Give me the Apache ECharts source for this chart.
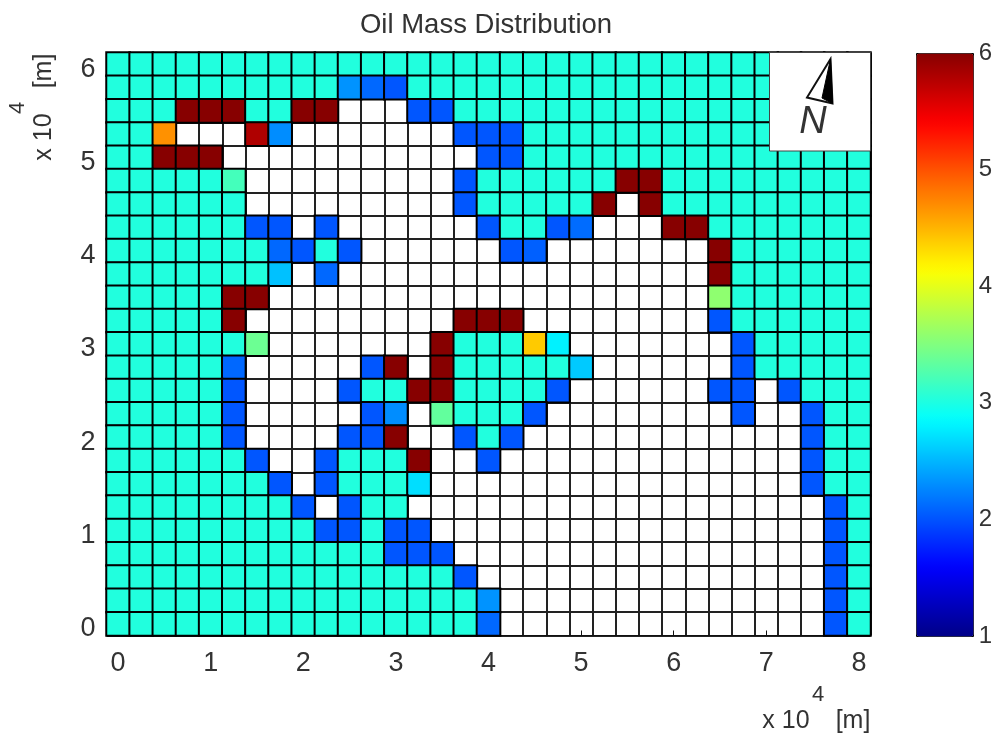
<!DOCTYPE html>
<html>
<head>
<meta charset="utf-8">
<style>html,body{margin:0;padding:0;background:#fff}#c{width:995px;height:734px}</style>
<script src="https://cdn.jsdelivr.net/npm/echarts@6/dist/echarts.min.js"></script>
</head>
<body>
<div id="c"></div>
<script>
var T = 3.03, B = 2.02, D = 6, _ = null;
var title = 'Oil Mass Distribution';
var xCategories = ['0','0.25','0.5','0.75','1','1.25','1.5','1.75','2','2.25','2.5','2.75','3','3.25','3.5','3.75','4','4.25','4.5','4.75','5','5.25','5.5','5.75','6','6.25','6.5','6.75','7','7.25','7.5','7.75','8'];
var yCategories = ['0','0.25','0.5','0.75','1','1.25','1.5','1.75','2','2.25','2.5','2.75','3','3.25','3.5','3.75','4','4.25','4.5','4.75','5','5.25','5.5','5.75','6'];
var colorbarTicks = [1, 6, 1];
// rows listed from the top of the picture to the bottom
var row00 = [T,T,T,T,T,T,T,T,T,T,T,T,T,T,T,T,T,T,T,T,T,T,T,T,T,T,T,T,T,T,T,T,T];
var row01 = [T,T,T,T,T,T,T,T,T,T,2.33,2.11,B,T,T,T,T,T,T,T,T,T,T,T,T,T,T,T,T,T,T,T,T];
var row02 = [T,T,T,D,D,D,T,T,D,D,_,_,_,B,B,T,T,T,T,T,T,T,T,T,T,T,T,T,T,T,T,T,T];
var row03 = [T,T,4.68,_,_,_,5.8,2.3,_,_,_,_,_,_,_,B,B,B,T,T,T,T,T,T,T,T,T,T,T,T,T,T,T];
var row04 = [T,T,D,D,D,_,_,_,_,_,_,_,_,_,_,_,B,B,T,T,T,T,T,T,T,T,T,T,T,T,T,T,T];
var row05 = [T,T,T,T,T,3.2,_,_,_,_,_,_,_,_,_,B,T,T,T,T,T,T,D,D,T,T,T,T,T,T,T,T,T];
var row06 = [T,T,T,T,T,T,_,_,_,_,_,_,_,_,_,B,T,T,T,T,T,D,_,D,T,T,T,T,T,T,T,T,T];
var row07 = [T,T,T,T,T,T,B,B,_,B,_,_,_,_,_,_,B,T,T,B,2.13,_,_,_,D,D,T,T,T,T,T,T,T];
var row08 = [T,T,T,T,T,T,T,2.11,B,T,B,_,_,_,_,_,_,B,2.07,_,_,_,_,_,_,_,D,T,T,T,T,T,T];
var row09 = [T,T,T,T,T,T,T,2.56,_,2.11,_,_,_,_,_,_,_,_,_,_,_,_,_,_,_,_,D,T,T,T,T,T,T];
var row10 = [T,T,T,T,T,D,D,_,_,_,_,_,_,_,_,_,_,_,_,_,_,_,_,_,_,_,3.58,T,T,T,T,T,T];
var row11 = [T,T,T,T,T,D,_,_,_,_,_,_,_,_,_,D,D,D,_,_,_,_,_,_,_,_,B,T,T,T,T,T,T];
var row12 = [T,T,T,T,T,T,3.4,_,_,_,_,_,_,_,D,T,T,T,4.4,2.8,_,_,_,_,_,_,_,B,T,T,T,T,T];
var row13 = [T,T,T,T,T,2.11,_,_,_,_,_,B,D,_,D,T,T,T,T,T,2.6,_,_,_,_,_,_,B,T,T,T,T,T];
var row14 = [T,T,T,T,T,B,_,_,_,_,B,T,T,D,D,T,T,T,T,B,_,_,_,_,_,_,B,B,_,B,T,T,T];
var row15 = [T,T,T,T,T,B,_,_,_,_,_,B,2.3,_,3.35,T,T,T,B,_,_,_,_,_,_,_,_,B,_,_,B,T,T];
var row16 = [T,T,T,T,T,B,_,_,_,_,B,B,D,_,_,B,T,B,_,_,_,_,_,_,_,_,_,_,_,_,B,T,T];
var row17 = [T,T,T,T,T,T,B,_,_,B,T,T,T,D,_,_,B,_,_,_,_,_,_,_,_,_,_,_,_,_,B,T,T];
var row18 = [T,T,T,T,T,T,T,B,_,B,T,T,T,2.7,_,_,_,_,_,_,_,_,_,_,_,_,_,_,_,_,B,T,T];
var row19 = [T,T,T,T,T,T,T,T,B,_,B,T,T,_,_,_,_,_,_,_,_,_,_,_,_,_,_,_,_,_,_,B,T];
var row20 = [T,T,T,T,T,T,T,T,T,B,B,T,B,B,_,_,_,_,_,_,_,_,_,_,_,_,_,_,_,_,_,B,T];
var row21 = [T,T,T,T,T,T,T,T,T,T,T,T,B,B,B,_,_,_,_,_,_,_,_,_,_,_,_,_,_,_,_,B,T];
var row22 = [T,T,T,T,T,T,T,T,T,T,T,T,T,T,T,B,_,_,_,_,_,_,_,_,_,_,_,_,_,_,_,B,T];
var row23 = [T,T,T,T,T,T,T,T,T,T,T,T,T,T,T,T,2.33,_,_,_,_,_,_,_,_,_,_,_,_,_,_,B,T];
var row24 = [T,T,T,T,T,T,T,T,T,T,T,T,T,T,T,T,2.11,_,_,_,_,_,_,_,_,_,_,_,_,_,_,B,T];
var rows = [row00,row01,row02,row03,row04,row05,row06,row07,row08,row09,row10,row11,row12,row13,row14,row15,row16,row17,row18,row19,row20,row21,row22,row23,row24];

var cells = [];
rows.forEach(function (r, i) {
  r.forEach(function (v, j) {
    if (v !== null) cells.push([j, rows.length - 1 - i, v]);
  });
});

function jetColor(t) {
  function ch(x) { var v = Math.min(4 * x + 0.5, -4 * x + 2.5); v = Math.max(0, Math.min(1, v)); return Math.round(v * 255); }
  return 'rgb(' + ch(t - 0.5) + ',' + ch(t - 0.25) + ',' + ch(t) + ')';
}
var jet = [];
for (var k = 0; k < 64; k++) jet.push(jetColor((k + 0.5) / 64));

var FONT = '"Liberation Sans", Arial, sans-serif';
var INK = '#333333';
function txt(s, x, y, size, rot, extra) {
  var st = { text: s, font: (extra || '') + ' ' + size + 'px ' + FONT, fill: INK, textAlign: 'center', textVerticalAlign: 'middle' };
  return { type: 'text', x: x, y: y, rotation: rot || 0, style: st, z: 100 };
}

var chart = echarts.init(document.getElementById('c'), null, { renderer: 'canvas' });
chart.setOption({
  backgroundColor: '#fff',
  animation: false,
  title: { text: title, left: 481, top: 6, textAlign: 'center', textStyle: { fontFamily: FONT, fontSize: 27.5, fontWeight: 'normal', color: INK } },
  grid: [
    { left: 106.5, top: 52.5, width: 764, height: 583, show: false },
    { left: 916, top: 53, width: 57, height: 583, show: false }
  ],
  xAxis: [
    { type: 'category', gridIndex: 0, data: xCategories,
      axisLine: { show: true, lineStyle: { color: '#111', width: 1 } },
      axisTick: { show: true, inside: true, length: 5, alignWithLabel: true, interval: 3, lineStyle: { color: '#111' } },
      axisLabel: { interval: 3, fontFamily: FONT, fontSize: 27, color: INK, margin: 15 },
      splitLine: { show: true, interval: 0, lineStyle: { color: '#222', width: 2 } } },
    { type: 'value', gridIndex: 1, show: false, min: 0, max: 1 }
  ],
  yAxis: [
    { type: 'category', gridIndex: 0, data: yCategories,
      axisLine: { show: true, lineStyle: { color: '#111', width: 1 } },
      axisTick: { show: true, inside: true, length: 5, alignWithLabel: true, interval: 3, lineStyle: { color: '#111' } },
      axisLabel: { interval: 3, fontFamily: FONT, fontSize: 27, color: INK, margin: 11, verticalAlign: 'top', lineHeight: 10 },
      splitLine: { show: true, interval: 0, lineStyle: { color: '#222', width: 2 } } },
    { type: 'value', gridIndex: 1, position: 'right', min: colorbarTicks[0], max: colorbarTicks[1], interval: colorbarTicks[2],
      axisLine: { show: false }, axisTick: { show: false }, splitLine: { show: false },
      axisLabel: { fontFamily: FONT, fontSize: 24, color: INK, margin: 8 } }
  ],
  visualMap: {
    type: 'continuous', seriesIndex: 0, min: 1, max: 6, left: 916, top: 53,
    itemWidth: 57, itemHeight: 583, padding: 0, text: null, calculable: false, hoverLink: false,
    borderColor: '#000', borderWidth: 1,
    inRange: { color: jet }
  },
  series: [
    { type: 'heatmap', xAxisIndex: 0, yAxisIndex: 0, data: cells, silent: true,
      itemStyle: { borderColor: '#000', borderWidth: 2 }, emphasis: { disabled: true } },
    { type: 'scatter', xAxisIndex: 1, yAxisIndex: 1, data: [], silent: true }
  ],
  graphic: [
    { type: 'rect', shape: { x: 769.5, y: 52.5, width: 101, height: 98.5 }, style: { fill: '#fff', stroke: '#444', lineWidth: 1 }, z: 90 },
    { type: 'polygon', shape: { points: [[830.5, 59], [807, 97.5], [832.5, 103.5]] }, style: { fill: '#fff', stroke: '#111', lineWidth: 2 }, z: 91 },
    { type: 'polygon', shape: { points: [[830.5, 59], [822, 98], [832.5, 103.5]] }, style: { fill: '#000', stroke: '#000', lineWidth: 1 }, z: 92 },
    txt('N', 813, 122, 38, 0, 'italic'),
    txt('x 10', 786, 721, 25),
    txt('4', 818, 695, 22),
    txt('[m]', 853, 721, 25),
    txt('x 10', 44, 137, 25, Math.PI / 2),
    txt('4', 18, 108, 22, Math.PI / 2),
    txt('[m]', 44, 71, 25, Math.PI / 2)
  ]
});
</script>
</body>
</html>
